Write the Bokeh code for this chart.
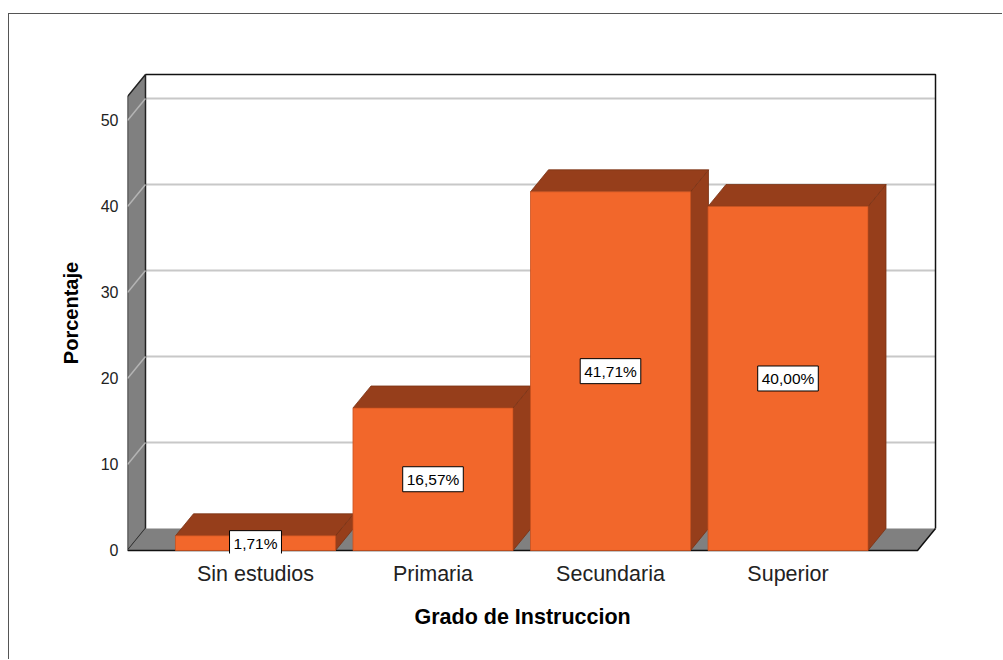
from bokeh.plotting import figure
from bokeh.models import FixedTicker, ColumnDataSource, Title
from bokeh.core.properties import value
from bokeh.embed import file_html
from bokeh.resources import INLINE

# ---- data ----
categories = ["Sin estudios", "Primaria", "Secundaria", "Superior"]
percentages = [1.71, 16.57, 41.71, 40.00]
bar_labels = ["1,71%", "16,57%", "41,71%", "40,00%"]
y_ticks = [0, 10, 20, 30, 40, 50]

# ---- style / geometry constants (data units) ----
DX = 0.1014       # depth offset in x
DY = 2.558        # depth offset in y
HALF_W = 0.4507   # half bar width
WALL_X = -0.7211  # front x of left wall
FLOOR_R = 3.7296  # front x of floor right edge
WALL_TOP = 52.79  # front top of left wall
ORANGE = "#F2672B"
DARK = "#963E1B"
GREY = "#808080"
FONT = "Liberation Sans"

p = figure(width=994, height=646, x_range=(-0.7211, 3.8535), y_range=(-0.349, 55.58),
           output_backend="svg", toolbar_location=None,
           min_border_left=118, min_border_right=64, min_border_top=58, min_border_bottom=107,
           background_fill_color="white", border_fill_color="white", outline_line_color=None)
p.styles = {"margin-top": "13px", "margin-left": "8px",
            "border-left": "1px solid #555555", "border-top": "1px solid #555555"}
p.xgrid.visible = False
p.ygrid.visible = False

# back wall grid lines
bx0, bx1 = WALL_X + DX, FLOOR_R + DX
for v in y_ticks[1:]:
    p.line([bx0, bx1], [v + DY, v + DY], line_color="#C8C8C8", line_width=2)

# left wall
p.patch([WALL_X, WALL_X, WALL_X + DX, WALL_X + DX], [0, WALL_TOP, WALL_TOP + DY, DY],
        fill_color=GREY, line_color="#222222", line_width=1.5)
for v in y_ticks[1:]:
    p.line([WALL_X, WALL_X + DX], [v, v + DY], line_color="#B4B4B4", line_width=1.5)

# back wall top and right edges
p.line([WALL_X + DX, FLOOR_R + DX, FLOOR_R + DX], [WALL_TOP + DY, WALL_TOP + DY, DY],
       line_color="#111111", line_width=1.5)

# floor
p.patch([WALL_X, FLOOR_R, FLOOR_R + DX, WALL_X + DX], [0, 0, DY, DY],
        fill_color=GREY, line_color=None)
p.line([WALL_X, FLOOR_R, FLOOR_R + DX], [0, 0, DY], line_color="#111111", line_width=1.5)

# bars
xs = list(range(len(categories)))
front_x, front_y, top_x, top_y, side_x, side_y = [], [], [], [], [], []
for i, v in zip(xs, percentages):
    xl, xr = i - HALF_W, i + HALF_W
    front_x.append([xl, xr, xr, xl]); front_y.append([0, 0, v, v])
    top_x.append([xl, xr, xr + DX, xl + DX]); top_y.append([v, v, v + DY, v + DY])
    side_x.append([xr, xr + DX, xr + DX, xr]); side_y.append([0, DY, v + DY, v])

p.patches(side_x, side_y, fill_color=DARK, line_color="#7A3214", line_width=0.8)
p.patches(top_x, top_y, fill_color=DARK, line_color="#7A3214", line_width=0.8)
p.patches(front_x, front_y, fill_color=ORANGE, line_color="#C9521F", line_width=0.8)

# value labels
src = ColumnDataSource(dict(x=xs, y=[v / 2 for v in percentages], t=bar_labels))
p.text(x="x", y="y", text="t", source=src, text_align="center", text_baseline="middle",
       text_font=value(FONT), text_font_size="15.5px", text_color="black",
       background_fill_color="white", border_line_color="black", border_line_width=1,
       padding=4)

# axes
p.yaxis.ticker = FixedTicker(ticks=y_ticks)
p.yaxis.axis_line_color = None
p.yaxis.major_tick_line_color = None
p.yaxis.minor_tick_line_color = None
p.yaxis.major_label_standoff = 3
p.yaxis.major_label_text_font = FONT
p.yaxis.major_label_text_font_size = "16px"
p.yaxis.major_label_text_color = "#222222"
p.yaxis.axis_label = "Porcentaje"
p.yaxis.axis_label_text_font = FONT
p.yaxis.axis_label_text_font_style = "bold"
p.yaxis.axis_label_text_font_size = "20px"
p.yaxis.axis_label_text_color = "black"
p.yaxis.axis_label_standoff = 16

p.xaxis.ticker = FixedTicker(ticks=xs)
p.xaxis.major_label_overrides = {i: c for i, c in zip(xs, categories)}
p.xaxis.axis_line_color = None
p.xaxis.major_tick_line_color = None
p.xaxis.minor_tick_line_color = None
p.xaxis.major_label_standoff = 2
p.xaxis.major_label_text_font = FONT
p.xaxis.major_label_text_font_size = "21.5px"
p.xaxis.major_label_text_color = "#222222"

# x axis title, placed as a title panel below the axis
p.add_layout(Title(text="Grado de Instruccion", align="left", offset=287, standoff=28,
                   text_font=FONT, text_font_style="bold", text_font_size="21.5px",
                   text_color="black"), "below")

open("out.html", "w").write(file_html(p, INLINE))
